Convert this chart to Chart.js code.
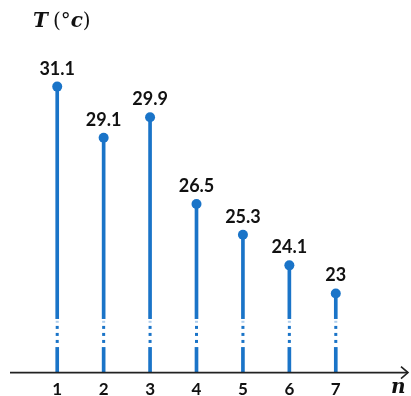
<!DOCTYPE html>
<html><head><meta charset="utf-8">
<script src="https://cdn.jsdelivr.net/npm/chart.js@4/dist/chart.umd.min.js"></script>
<style>html,body{margin:0;padding:0;background:#fff}#wrap{width:411px;height:396px}</style>
</head><body><div id="wrap"><canvas id="c" width="411" height="396"></canvas></div>
<script>
const categories = ['1','2','3','4','5','6','7'];
const temperatures = [31.1, 29.1, 29.9, 26.5, 25.3, 24.1, 23];
const valueLabels = ['31.1','29.1','29.9','26.5','25.3','24.1','23'];
const yRange = [19.9, 34.1];
const breakRange = [20.9, 22.0];

const BLUE = '#1a74c8';

const decor = {
  id: 'decor',
  afterDatasetsDraw(chart) {
    const ctx = chart.ctx, ys = chart.scales.y, area = chart.chartArea;
    const bars = chart.getDatasetMeta(0).data;
    const yTop = ys.getPixelForValue(breakRange[1]);
    const yBot = ys.getPixelForValue(breakRange[0]);
    ctx.save();
    bars.forEach(b => {
      ctx.fillStyle = '#fff';
      ctx.fillRect(b.x - 3, yTop, 6, yBot - yTop);
      ctx.fillStyle = BLUE;
      const h = yBot - yTop;
      [0.3, 0.55, 0.8].forEach(f => ctx.fillRect(b.x - 1.5, yTop + f * h - 1.5, 3, 3));
      ctx.globalAlpha = 0.35;
      ctx.fillRect(b.x - 1.5, yTop + 0.1 * h - 1, 3, 2);
      ctx.globalAlpha = 1;
    });
    // value labels
    const pts = chart.getDatasetMeta(1).data;
    ctx.fillStyle = '#111';
    ctx.font = 'bold 18px Lato';
    ctx.textAlign = 'center';
    ctx.textBaseline = 'alphabetic';
    pts.forEach((p, i) => ctx.fillText(valueLabels[i], p.x, p.y - 12));
    // x axis with arrow
    const y0 = area.bottom;
    ctx.strokeStyle = '#222';
    ctx.lineWidth = 1.6;
    ctx.beginPath(); ctx.moveTo(10, y0); ctx.lineTo(408, y0); ctx.stroke();
    ctx.beginPath(); ctx.moveTo(401, y0 - 6); ctx.lineTo(408, y0); ctx.lineTo(401, y0 + 6); ctx.stroke();
    // axis titles
    ctx.textAlign = 'left';
    ctx.textBaseline = 'alphabetic';
    ctx.fillStyle = '#111';
    let x = 33; const ty = 27;
    ctx.font = 'italic bold 20px "DejaVu Serif"'; ctx.fillText('T', x, ty); x += ctx.measureText('T').width + 5;
    ctx.font = '20px "DejaVu Serif"'; ctx.fillText('(°', x, ty); x += ctx.measureText('(°').width;
    ctx.font = 'italic bold 20px "DejaVu Serif"'; ctx.fillText('c', x, ty); x += ctx.measureText('c').width;
    ctx.font = '20px "DejaVu Serif"'; ctx.fillText(')', x, ty);
    ctx.font = 'italic bold 20px "DejaVu Serif"';
    ctx.fillText('n', 391, 393);
    ctx.restore();
  }
};

new Chart(document.getElementById('c'), {
  data: {
    labels: categories,
    datasets: [
      { type: 'bar', data: temperatures, backgroundColor: BLUE, barThickness: 3, order: 2 },
      { type: 'line', data: temperatures, showLine: false, pointRadius: 5, pointHoverRadius: 5,
        pointBackgroundColor: BLUE, pointBorderColor: BLUE, borderWidth: 0, order: 1 }
    ]
  },
  options: {
    responsive: false, animation: false, events: [],
    layout: { padding: { left: 34, right: 52, top: 10, bottom: -11 } },
    plugins: { legend: { display: false }, tooltip: { enabled: false } },
    scales: {
      x: { type: 'category', offset: true,
           grid: { display: false, drawTicks: false }, border: { display: false },
           ticks: { color: '#111', font: { family: 'Lato', weight: 'bold', size: 17 }, padding: 7 } },
      y: { display: false, min: yRange[0], max: yRange[1] }
    }
  },
  plugins: [decor]
});
</script></body></html>
